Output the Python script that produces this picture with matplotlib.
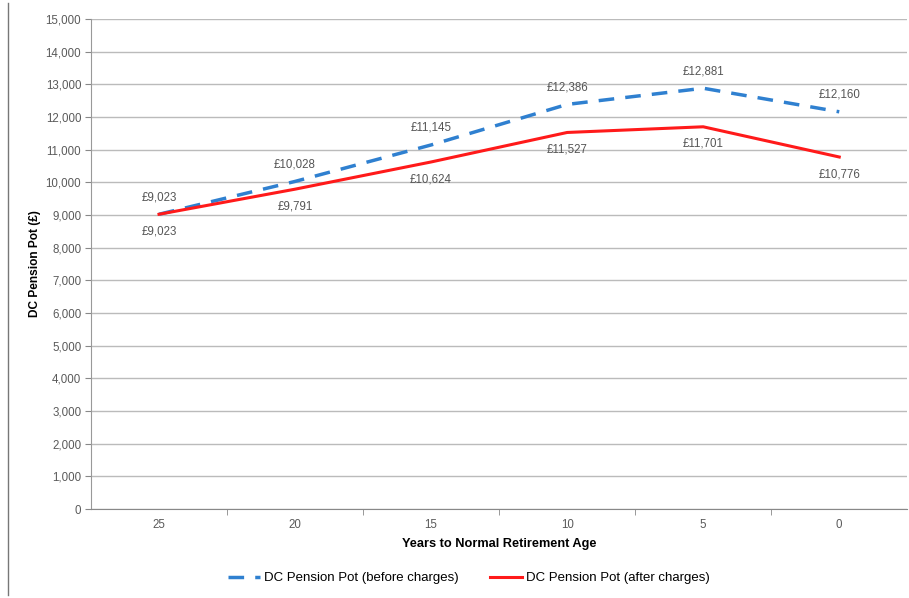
import matplotlib.pyplot as plt
from matplotlib.lines import Line2D

plt.rcParams['font.family'] = ['Liberation Sans', 'DejaVu Sans']

years = ['25', '20', '15', '10', '5', '0']
before = [9023, 10028, 11145, 12386, 12881, 12160]
after = [9023, 9791, 10624, 11527, 11701, 10776]

fig = plt.figure(figsize=(9.09, 5.98), dpi=100)
ax = fig.add_axes([0.1001, 0.1488, 0.898, 0.8194])

x = list(range(len(years)))
ax.plot(x, before, color='#2f80d0', lw=2.5, ls=(0, (4.5, 3.2)), label='DC Pension Pot (before charges)')
ax.plot(x, after, color='#ff1a1a', lw=2.2, label='DC Pension Pot (after charges)')

for i in x:
    ax.annotate('£{:,}'.format(before[i]), (i, before[i]), xytext=(0, 8), textcoords='offset points',
                ha='center', va='bottom', fontsize=8.3, color='#555555')
    ax.annotate('£{:,}'.format(after[i]), (i, after[i]), xytext=(0, -8), textcoords='offset points',
                ha='center', va='top', fontsize=8.3, color='#555555')

ax.set_xlim(-0.5, len(years) - 0.5)
ax.set_ylim(0, 15000)
ax.set_yticks(range(0, 15001, 1000))
ax.set_yticklabels(['{:,}'.format(v) for v in range(0, 15001, 1000)], fontsize=8.3, color='#5a5a5a')
ax.set_xticks(x)
ax.set_xticklabels(years, fontsize=8.3, color='#5a5a5a')
ax.set_xticks([i + 0.5 for i in x[:-1]], minor=True)
ax.tick_params(axis='x', which='major', length=0, pad=7)
ax.tick_params(axis='x', which='minor', length=4, color='#888888', direction='out')
ax.tick_params(axis='y', length=4, color='#888888', pad=3)
ax.grid(axis='y', color='#bbbbbb', lw=1)
ax.set_axisbelow(True)
for s in ['top', 'right']:
    ax.spines[s].set_visible(False)
ax.spines['left'].set_color('#999999')
ax.spines['bottom'].set_color('#888888')

ax.set_xlabel('Years to Normal Retirement Age', fontsize=9.2, fontweight='bold', labelpad=5)
ax.set_ylabel('DC Pension Pot (£)', fontsize=8.6, fontweight='bold', labelpad=3)

fig.legend(loc='center', bbox_to_anchor=(0.516, 0.033), ncol=2, frameon=False,
           fontsize=9.5, handlelength=2.4, handletextpad=0.3, columnspacing=2.4)

fig.add_artist(Line2D([0.009, 0.009], [0.005, 0.995], color='#777777', lw=1, transform=fig.transFigure))

fig.savefig('out.png', dpi=100)
